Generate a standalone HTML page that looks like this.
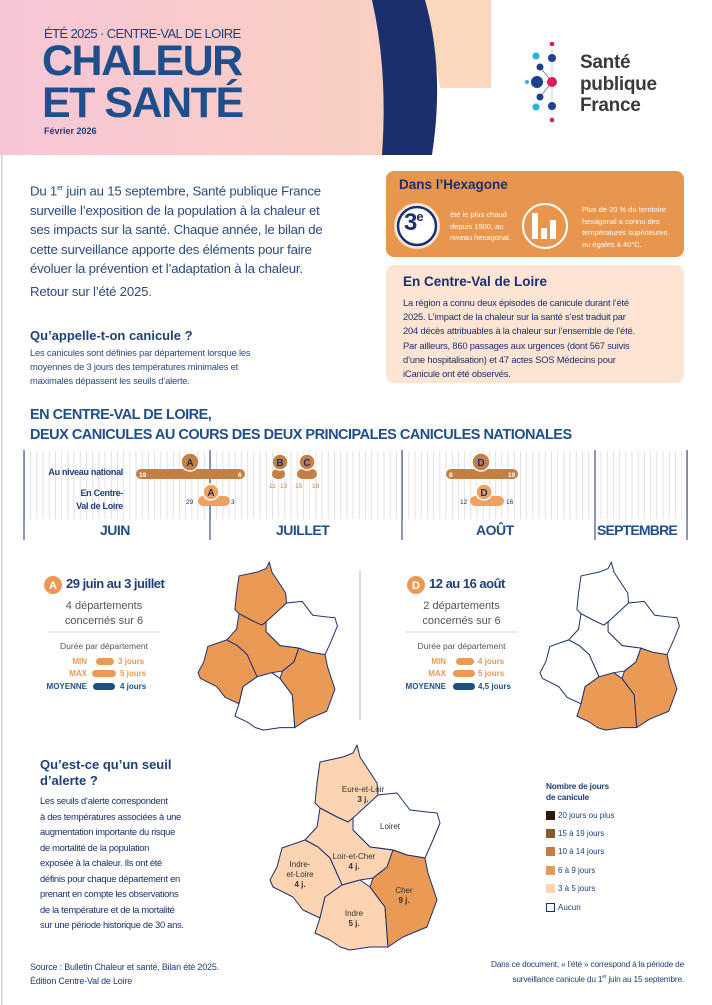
<!DOCTYPE html>
<html><head><meta charset="utf-8"><style>
*{margin:0;padding:0;box-sizing:border-box}
body{width:712px;height:1005px;position:relative;background:#fff;font-family:"Liberation Sans",sans-serif;color:#1f3f7a;overflow:hidden}
.a{position:absolute;white-space:nowrap}
.b{font-weight:bold}
</style></head><body>
<svg class="a" style="left:0;top:0" width="712" height="1005" viewBox="0 0 712 1005">
<defs>
<linearGradient id="hg" x1="0" x2="1" y1="0" y2="0"><stop offset="0" stop-color="#f6c6d6"/><stop offset="1" stop-color="#f9d0c2"/></linearGradient>
<pattern id="tk" x="24" y="0" width="6.2" height="10" patternUnits="userSpaceOnUse"><rect x="0" y="0" width="0.8" height="10" fill="#d8dbe3"/></pattern>
</defs>
<rect x="1" y="0" width="1.5" height="1005" fill="#d0d0d0"/>
<!-- header -->
<rect x="0" y="0" width="385" height="155" fill="url(#hg)"/>
<path d="M425 0 L491 0 L491 88 L440 88 Z" fill="#fbd7bd"/>
<path d="M372 0 L425 0 Q445 70 432 155 L382 155 Q388 70 372 0 Z" fill="#1b2f6e"/>
<!-- logo -->
<g>
<line x1="552" y1="50" x2="552" y2="113" stroke="#aaa" stroke-width="0.6"/>
<line x1="538" y1="82" x2="552" y2="82" stroke="#aaa" stroke-width="0.6"/>
<line x1="540" y1="67" x2="552" y2="82" stroke="#333" stroke-width="0.6"/>
<line x1="540" y1="97" x2="552" y2="82" stroke="#333" stroke-width="0.6"/>
<circle cx="552" cy="44" r="2.3" fill="#e0195a"/><circle cx="552" cy="120" r="2.3" fill="#e0195a"/>
<circle cx="552" cy="58" r="4" fill="#1d3f8f"/><circle cx="552" cy="106" r="4" fill="#1d3f8f"/>
<circle cx="552" cy="82" r="5" fill="#e0195a"/>
<circle cx="546" cy="56" r="3.6" fill="#2fb3e6" transform="translate(-10,0)"/>
<circle cx="536" cy="107" r="3.6" fill="#2fb3e6"/>
<circle cx="540" cy="67" r="3.5" fill="#1d3f8f"/><circle cx="540" cy="97" r="3.5" fill="#1d3f8f"/>
<circle cx="537" cy="82" r="6" fill="#1d3f8f"/><circle cx="527" cy="82" r="2" fill="#2fb3e6"/>
</g>
<!-- boxes -->
<rect x="386" y="171" width="298" height="86" rx="8" fill="#e8954e"/>
<circle cx="417" cy="226" r="22" fill="#fff" stroke="#fbe0c9" stroke-width="2"/>
<circle cx="417" cy="226" r="19" fill="#fff" stroke="#1b2f6e" stroke-width="2.5"/>
<circle cx="545" cy="226" r="22" fill="none" stroke="#fff" stroke-width="2"/>
<rect x="532" y="213" width="6" height="26" fill="#fff"/><rect x="541" y="228" width="6" height="11" fill="#fff"/><rect x="550" y="220" width="6" height="19" fill="#fff"/>
<rect x="386" y="265" width="298" height="118" rx="8" fill="#fde4d3"/>
<!-- timeline -->
<rect x="24" y="451" width="664" height="68" fill="url(#tk)"/>
<g stroke="#1b2f6e" stroke-width="1"><line x1="24" y1="450" x2="24" y2="540"/><line x1="210" y1="450" x2="210" y2="540"/><line x1="402" y1="450" x2="402" y2="540"/><line x1="595" y1="450" x2="595" y2="540"/><line x1="687" y1="450" x2="687" y2="540"/></g>
<g fill="#c47f44">
<rect x="136" y="469" width="109" height="10" rx="5"/>
<circle cx="190" cy="462" r="9" stroke="#fff" stroke-width="1.5"/>
<rect x="272" y="469" width="13" height="10" rx="5"/><circle cx="280" cy="462" r="8" stroke="#fff" stroke-width="1.5"/>
<rect x="297" y="469" width="20" height="10" rx="5"/><circle cx="307" cy="462" r="8" stroke="#fff" stroke-width="1.5"/>
<rect x="446" y="469" width="72" height="10" rx="5"/><circle cx="481" cy="462" r="9" stroke="#fff" stroke-width="1.5"/>
</g>
<g fill="#eda25f">
<rect x="198" y="496" width="32" height="10" rx="5"/><circle cx="211" cy="492" r="8" stroke="#fff" stroke-width="1.5"/>
<rect x="470" y="496" width="34" height="10" rx="5"/><circle cx="484" cy="492" r="8" stroke="#fff" stroke-width="1.5"/>
</g>
<g font-family="Liberation Sans" font-weight="bold" font-size="10" fill="#1b2f6e" text-anchor="middle">
<text x="190" y="466">A</text><text x="280" y="466">B</text><text x="307" y="466">C</text><text x="481" y="466">D</text><text x="211" y="496">A</text><text x="484" y="496">D</text>
</g>
<g font-family="Liberation Sans" font-size="6.5" fill="#fff" font-weight="bold"><text x="139" y="477">19</text><text x="238" y="477">6</text><text x="449" y="477">8</text><text x="508" y="477">19</text></g>
<g font-family="Liberation Sans" font-size="6.5" fill="#c47f44"><text x="269" y="488">11</text><text x="280" y="488">13</text><text x="295" y="488">15</text><text x="312" y="488">18</text></g>
<g font-family="Liberation Sans" font-size="6.5" fill="#1b2f6e"><text x="186" y="504">29</text><text x="231" y="504">3</text><text x="460" y="504">12</text><text x="506" y="504">16</text></g>
<line x1="360" y1="570" x2="360" y2="720" stroke="#999" stroke-width="0.7"/>
<line x1="48" y1="632" x2="160" y2="632" stroke="#ccc" stroke-width="0.7"/>
<line x1="405" y1="632" x2="518" y2="632" stroke="#ccc" stroke-width="0.7"/>
<circle cx="53" cy="585" r="9" fill="#eb9a55"/><circle cx="416" cy="585" r="9" fill="#eb9a55"/>
<g font-family="Liberation Sans" font-weight="bold" font-size="11" fill="#fff" text-anchor="middle"><text x="53" y="589">A</text><text x="416" y="589">D</text></g>
<g fill="#eb9a55"><rect x="96" y="658" width="18" height="7" rx="3.5"/><rect x="92" y="670" width="24" height="7" rx="3.5"/><rect x="456" y="658" width="18" height="7" rx="3.5"/><rect x="453" y="670" width="22" height="7" rx="3.5"/></g>
<g fill="#1f4e8c"><rect x="93" y="683" width="22" height="7" rx="3.5"/><rect x="453" y="683" width="22" height="7" rx="3.5"/></g>
<!-- maps -->
<g stroke="#1b2f6e" stroke-width="1" stroke-linejoin="round">
<g transform="translate(198,562) scale(0.82) translate(-270,-745)" stroke-width="1.2">
<polygon fill="#eb9a55" points="357,745 360,757 377,783 378,795 370,807 353,818 348,822 337,817 320,808 315,803 317,783 320,762 343,757 353,753"/>
<polygon fill="#fff" points="378,795 397,793 410,810 427,812 437,813 440,823 433,840 425,858 407,855 393,850 370,847 353,830 353,818"/>
<polygon fill="#eb9a55" points="353,818 353,830 370,847 393,850 387,867 373,878 360,880 342,885 330,858 318,847 305,840 317,827 320,808 337,817 348,822"/>
<polygon fill="#eb9a55" points="305,840 318,847 330,858 342,885 325,897 320,918 303,910 293,897 273,887 270,880 277,867 282,848"/>
<polygon fill="#fff" points="342,885 360,880 370,887 385,907 388,947 370,947 350,950 340,947 330,940 315,933 320,918 325,897"/>
<polygon fill="#eb9a55" points="393,850 407,855 425,858 428,873 437,900 427,927 403,937 388,947 385,907 370,887 373,878 387,867"/>
</g>
<g transform="translate(540,562) scale(0.82) translate(-270,-745)" stroke-width="1.2">
<polygon fill="#fff" points="357,745 360,757 377,783 378,795 370,807 353,818 348,822 337,817 320,808 315,803 317,783 320,762 343,757 353,753"/>
<polygon fill="#fff" points="378,795 397,793 410,810 427,812 437,813 440,823 433,840 425,858 407,855 393,850 370,847 353,830 353,818"/>
<polygon fill="#fff" points="353,818 353,830 370,847 393,850 387,867 373,878 360,880 342,885 330,858 318,847 305,840 317,827 320,808 337,817 348,822"/>
<polygon fill="#fff" points="305,840 318,847 330,858 342,885 325,897 320,918 303,910 293,897 273,887 270,880 277,867 282,848"/>
<polygon fill="#eb9a55" points="342,885 360,880 370,887 385,907 388,947 370,947 350,950 340,947 330,940 315,933 320,918 325,897"/>
<polygon fill="#eb9a55" points="393,850 407,855 425,858 428,873 437,900 427,927 403,937 388,947 385,907 370,887 373,878 387,867"/>
</g>
<g>
<polygon fill="#fcd4b2" points="357,745 360,757 377,783 378,795 370,807 353,818 348,822 337,817 320,808 315,803 317,783 320,762 343,757 353,753"/>
<polygon fill="#fff" points="378,795 397,793 410,810 427,812 437,813 440,823 433,840 425,858 407,855 393,850 370,847 353,830 353,818"/>
<polygon fill="#fcd4b2" points="353,818 353,830 370,847 393,850 387,867 373,878 360,880 342,885 330,858 318,847 305,840 317,827 320,808 337,817 348,822"/>
<polygon fill="#fcd4b2" points="305,840 318,847 330,858 342,885 325,897 320,918 303,910 293,897 273,887 270,880 277,867 282,848"/>
<polygon fill="#fcd4b2" points="342,885 360,880 370,887 385,907 388,947 370,947 350,950 340,947 330,940 315,933 320,918 325,897"/>
<polygon fill="#eb9a55" points="393,850 407,855 425,858 428,873 437,900 427,927 403,937 388,947 385,907 370,887 373,878 387,867"/>
</g>
</g>
<!-- legend -->
<rect x="546" y="811" width="9" height="9" fill="#2a1a0c"/>
<rect x="546" y="829" width="9" height="9" fill="#8a5a2e"/>
<rect x="546" y="847" width="9" height="9" fill="#c27d46"/>
<rect x="546" y="866" width="9" height="9" fill="#eb9a55"/>
<rect x="546" y="884" width="9" height="9" fill="#fcd4b2"/>
<rect x="546.5" y="903.5" width="8" height="8" fill="#fff" stroke="#1b2f6e"/>
</svg>

<div class="a" style="left:44px;top:26px;font-size:13px;letter-spacing:-0.6px">ÉTÉ 2025 · CENTRE-VAL DE LOIRE</div>
<div class="a b" style="left:42px;top:40px;font-size:43px;line-height:42px;letter-spacing:-1.5px;color:#1f4e8c">CHALEUR<br>ET SANTÉ</div>
<div class="a b" style="left:44px;top:126px;font-size:9px">Février 2026</div>
<div class="a b" style="left:580px;top:52px;font-size:19px;line-height:21.5px;color:#3a3a3a;letter-spacing:-0.3px">Santé<br>publique<br>France</div>

<div class="a" style="left:30px;top:179px;font-size:13.2px;line-height:19.5px;color:#2c4a80;letter-spacing:-0.2px">Du 1<sup style="font-size:7px">er</sup> juin au 15 septembre, Santé publique France<br>surveille l’exposition de la population à la chaleur et<br>ses impacts sur la santé. Chaque année, le bilan de<br>cette surveillance apporte des éléments pour faire<br>évoluer la prévention et l’adaptation à la chaleur.<br><span style="line-height:25px">Retour sur l’été 2025.</span></div>
<div class="a b" style="left:30px;top:328px;font-size:13px">Qu’appelle-t-on canicule ?</div>
<div class="a" style="left:30px;top:346px;font-size:9.4px;line-height:14px;color:#2c4a80;letter-spacing:-0.2px">Les canicules sont définies par département lorsque les<br>moyennes de 3 jours des températures minimales et<br>maximales dépassent les seuils d’alerte.</div>

<div class="a b" style="left:399px;top:177px;font-size:13.5px;color:#1b2f6e">Dans l’Hexagone</div>
<div class="a b" style="left:404px;top:209px;font-size:24px;color:#1b2f6e;letter-spacing:-1px">3<sup style="font-size:13px">e</sup></div>
<div class="a" style="left:450px;top:209px;font-size:7.5px;line-height:11.5px;color:#fff">été le plus chaud<br>depuis 1900, au<br>niveau hexagonal.</div>
<div class="a" style="left:582px;top:204px;font-size:7.5px;line-height:11.5px;color:#fff">Plus de 20 % du territoire<br>hexagonal a connu des<br>températures supérieures<br>ou égales à 40°C.</div>
<div class="a b" style="left:403px;top:274px;font-size:13.5px;color:#1b2f6e">En Centre-Val de Loire</div>
<div class="a" style="left:403px;top:296px;font-size:9.4px;line-height:14.2px;color:#1b2f6e;letter-spacing:-0.2px">La région a connu deux épisodes de canicule durant l’été<br>2025. L’impact de la chaleur sur la santé s’est traduit par<br>204 décès attribuables à la chaleur sur l’ensemble de l’été.<br>Par ailleurs, 860 passages aux urgences (dont 567 suivis<br>d’une hospitalisation) et 47 actes SOS Médecins pour<br>iCanicule ont été observés.</div>

<div class="a b" style="left:30px;top:405px;font-size:14.5px;line-height:20px;letter-spacing:-0.5px;color:#1f4e8c">EN CENTRE-VAL DE LOIRE,<br>DEUX CANICULES AU COURS DES DEUX PRINCIPALES CANICULES NATIONALES</div>
<div class="a b" style="right:589px;top:467px;font-size:9px;letter-spacing:-0.3px">Au niveau national</div>
<div class="a b" style="right:589px;top:487px;font-size:9px;line-height:13px;text-align:right;letter-spacing:-0.3px">En Centre-<br>Val de Loire</div>
<div class="a b" style="left:100px;top:522px;font-size:14px;letter-spacing:-0.5px;color:#1f4e8c">JUIN</div>
<div class="a b" style="left:276px;top:522px;font-size:14px;letter-spacing:-0.5px;color:#1f4e8c">JUILLET</div>
<div class="a b" style="left:476px;top:522px;font-size:14px;letter-spacing:-0.5px;color:#1f4e8c">AOÛT</div>
<div class="a b" style="left:597px;top:522px;font-size:14px;letter-spacing:-0.8px;color:#1f4e8c">SEPTEMBRE</div>

<div class="a b" style="left:66px;top:576px;font-size:13px;letter-spacing:-0.5px">29 juin au 3 juillet</div>
<div class="a" style="left:48px;width:112px;top:599px;font-size:11px;line-height:15px;text-align:center;color:#555;white-space:normal">4 départements concernés sur 6</div>
<div class="a" style="left:48px;width:112px;top:641px;font-size:8.5px;text-align:center;color:#555">Durée par département</div>
<div class="a b" style="right:625px;top:657px;font-size:8px;color:#eb9a55">MIN</div>
<div class="a b" style="right:625px;top:669px;font-size:8px;color:#eb9a55">MAX</div>
<div class="a b" style="right:625px;top:682px;font-size:8px;color:#1f4e8c">MOYENNE</div>
<div class="a b" style="left:118px;top:657px;font-size:8px;color:#eb9a55">3 jours</div>
<div class="a b" style="left:120px;top:669px;font-size:8px;color:#eb9a55">5 jours</div>
<div class="a b" style="left:120px;top:682px;font-size:8px;color:#1f4e8c">4 jours</div>

<div class="a b" style="left:429px;top:576px;font-size:13px;letter-spacing:-0.5px">12 au 16 août</div>
<div class="a" style="left:405px;width:113px;top:599px;font-size:11px;line-height:15px;text-align:center;color:#555;white-space:normal">2 départements concernés sur 6</div>
<div class="a" style="left:405px;width:113px;top:641px;font-size:8.5px;text-align:center;color:#555">Durée par département</div>
<div class="a b" style="right:266px;top:657px;font-size:8px;color:#eb9a55">MIN</div>
<div class="a b" style="right:266px;top:669px;font-size:8px;color:#eb9a55">MAX</div>
<div class="a b" style="right:266px;top:682px;font-size:8px;color:#1f4e8c">MOYENNE</div>
<div class="a b" style="left:478px;top:657px;font-size:8px;color:#eb9a55">4 jours</div>
<div class="a b" style="left:478px;top:669px;font-size:8px;color:#eb9a55">5 jours</div>
<div class="a b" style="left:478px;top:682px;font-size:8px;color:#1f4e8c">4,5 jours</div>

<div class="a b" style="left:40px;top:757px;font-size:13px;line-height:16px">Qu’est-ce qu’un seuil<br>d’alerte ?</div>
<div class="a" style="left:40px;top:793px;font-size:9.4px;line-height:15.5px;color:#1b2f6e;letter-spacing:-0.3px">Les seuils d’alerte correspondent<br>à des températures associées à une<br>augmentation importante du risque<br>de mortalité de la population<br>exposée à la chaleur. Ils ont été<br>définis pour chaque département en<br>prenant en compte les observations<br>de la température et de la mortalité<br>sur une période historique de 30 ans.</div>

<div class="a" style="left:313px;width:100px;top:785px;font-size:8px;line-height:10px;text-align:center;color:#333">Eure-et-Loir<br><b>3 j.</b></div>
<div class="a" style="left:380px;top:822px;font-size:8px;color:#333">Loiret</div>
<div class="a" style="left:304px;width:100px;top:852px;font-size:8px;line-height:10px;text-align:center;color:#333">Loir-et-Cher<br><b>4 j.</b></div>
<div class="a" style="left:250px;width:100px;top:860px;font-size:8px;line-height:10px;text-align:center;color:#333">Indre-<br>et-Loire<br><b>4 j.</b></div>
<div class="a" style="left:354px;width:100px;top:886px;font-size:8px;line-height:10px;text-align:center;color:#333">Cher<br><b>9 j.</b></div>
<div class="a" style="left:304px;width:100px;top:909px;font-size:8px;line-height:10px;text-align:center;color:#333">Indre<br><b>5 j.</b></div>

<div class="a b" style="left:546px;top:781px;font-size:8.3px;line-height:10.5px;letter-spacing:-0.2px">Nombre de jours<br>de canicule</div>
<div class="a" style="left:558px;top:811px;font-size:8px">20 jours ou plus</div>
<div class="a" style="left:558px;top:829px;font-size:8px">15 à 19 jours</div>
<div class="a" style="left:558px;top:847px;font-size:8px">10 à 14 jours</div>
<div class="a" style="left:558px;top:866px;font-size:8px">6 à 9 jours</div>
<div class="a" style="left:558px;top:884px;font-size:8px">3 à 5 jours</div>
<div class="a" style="left:558px;top:903px;font-size:8px">Aucun</div>

<div class="a" style="left:30px;top:960px;font-size:9px;line-height:14px;letter-spacing:-0.2px">Source : Bulletin Chaleur et santé, Bilan été 2025.<br>Édition Centre-Val de Loire</div>
<div class="a" style="right:28px;top:958px;font-size:8.3px;line-height:13px;text-align:right;letter-spacing:-0.2px">Dans ce document, « l’été » correspond à la période de<br>surveillance canicule du 1<sup style="font-size:5px">er</sup> juin au 15 septembre.</div>
</body></html>
